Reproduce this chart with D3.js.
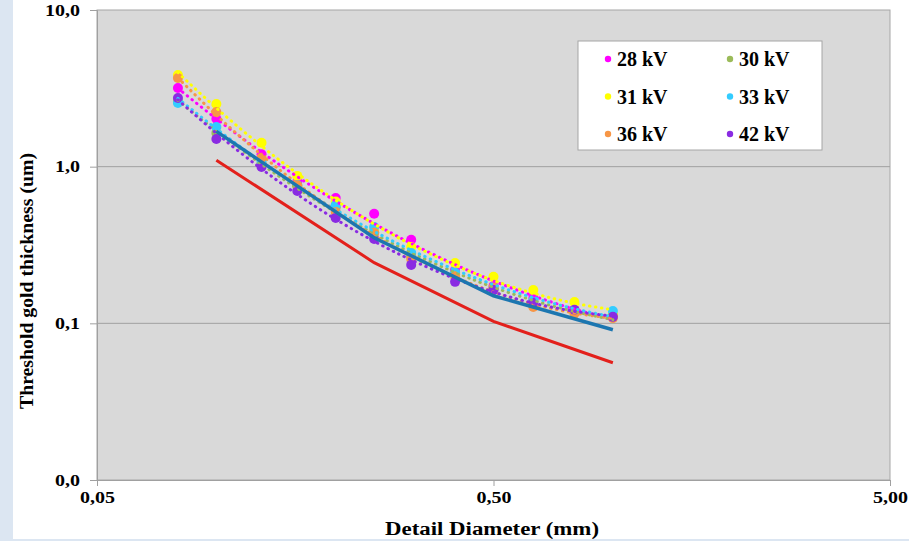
<!DOCTYPE html>
<html>
<head>
<meta charset="utf-8">
<script src="https://cdn.jsdelivr.net/npm/d3@7"></script>
<style>
  body { margin: 0; background: #fff; }
  svg { display: block; }
  text { font-family: "Liberation Serif", "Times New Roman", Tinos, serif; font-weight: bold; fill: #000; }
</style>
</head>
<body>
<script>
// data ---------------------------------------------------------
var diameters = [0.08, 0.10, 0.13, 0.16, 0.20, 0.25, 0.31, 0.40, 0.50, 0.63, 0.80, 1.00];

var kv28 = [3.18, 2.02, 1.20, 0.80, 0.63, 0.50, 0.341, 0.219, 0.173, 0.145, 0.122, 0.112];
var kv30 = [2.60, 1.64, 1.05, 0.75, 0.55, 0.38, 0.270, 0.205, 0.165, 0.138, 0.118, 0.110];
var kv31 = [3.85, 2.51, 1.42, 0.873, 0.60, 0.40, 0.307, 0.243, 0.198, 0.163, 0.137, 0.115];
var kv33 = [2.55, 1.79, 1.09, 0.764, 0.57, 0.412, 0.281, 0.210, 0.168, 0.140, 0.120, 0.120];
var kv36 = [3.68, 2.23, 1.14, 0.76, 0.514, 0.378, 0.258, 0.200, 0.170, 0.127, 0.115, 0.108];
var kv42 = [2.74, 1.50, 0.995, 0.70, 0.471, 0.346, 0.236, 0.184, 0.163, 0.135, 0.122, 0.110];

var seriesNames = ['28 kV', '30 kV', '31 kV', '33 kV', '36 kV', '42 kV'];
var seriesValues = [kv28, kv30, kv31, kv33, kv36, kv42];
var seriesColors = ['#ff00ff', '#9bbb59', '#ffff00', '#33ccff', '#f79646', '#8a2be2'];

// limit curves (solid lines)
var limitDiameters = [0.10, 0.25, 0.50, 1.00];
var acceptable = [1.68, 0.352, 0.150, 0.091];
var achievable = [1.10, 0.244, 0.103, 0.056];

var xTicks = [0.05, 0.5, 5];
var xTickLabels = ['0,05', '0,50', '5,00'];
var yTicks = [0.01, 0.1, 1, 10];
var yTickLabels = ['0,0', '0,1', '1,0', '10,0'];


// chart settings -----------------------------------------------
var chartConfig = {
  width: 909,
  height: 541,
  left: 97,
  right: 890,
  top: 10,
  bottom: 480,
  font: '"Liberation Serif", "Times New Roman", Tinos, serif'
};

var svg = d3.select('body').append('svg')
  .attr('width', chartConfig.width)
  .attr('height', chartConfig.height);

// light blue frame of the slide on the left and bottom
svg.append('rect').attr('x', 0).attr('y', 0).attr('width', 13).attr('height', chartConfig.height).attr('fill', '#dce6f2');
svg.append('rect').attr('x', 0).attr('y', chartConfig.height - 2).attr('width', chartConfig.width).attr('height', 2).attr('fill', '#dce6f2');

var x = d3.scaleLog().domain([0.05, 5]).range([chartConfig.left, chartConfig.right]);
var y = d3.scaleLog().domain([0.01, 10]).range([chartConfig.bottom, chartConfig.top]);

// plot area
svg.append('rect')
  .attr('x', chartConfig.left)
  .attr('y', chartConfig.top)
  .attr('width', chartConfig.right - chartConfig.left)
  .attr('height', chartConfig.bottom - chartConfig.top)
  .attr('fill', '#d9d9d9')
  .attr('stroke', '#a6a6a6')
  .attr('stroke-width', 1);

// gridlines
svg.append('g').selectAll('line')
  .data(yTicks.slice(1, 3))
  .enter()
  .append('line')
  .attr('x1', chartConfig.left)
  .attr('x2', chartConfig.right)
  .attr('y1', function(d) { return y(d); })
  .attr('y2', function(d) { return y(d); })
  .attr('stroke', '#a0a0a0')
  .attr('stroke-width', 1);

// axes
var yAxis = d3.axisLeft(y)
  .tickValues(yTicks)
  .tickSize(7)
  .tickPadding(9)
  .tickFormat(function(d, i) { return yTickLabels[i]; });

var xAxis = d3.axisBottom(x)
  .tickValues(xTicks)
  .tickSize(6)
  .tickPadding(6)
  .tickFormat(function(d, i) { return xTickLabels[i]; });

var gy = svg.append('g')
  .attr('transform', 'translate(' + chartConfig.left + ',0)')
  .call(yAxis);

var gx = svg.append('g')
  .attr('transform', 'translate(0,' + chartConfig.bottom + ')')
  .call(xAxis);

[gx, gy].forEach(function(g) {
  g.attr('font-family', chartConfig.font);
  g.select('.domain').attr('stroke', '#a0a0a0');
  g.selectAll('.tick line').attr('stroke', '#a0a0a0');
  g.selectAll('.tick text')
    .attr('font-family', chartConfig.font)
    .attr('font-size', 16)
    .attr('font-weight', 'bold')
    .attr('fill', '#000');
});

// the tick labels are drawn a bit wider than normal
gy.selectAll('.tick text')
  .attr('dy', '0.32em')
  .attr('transform', 'translate(3,0) scale(1.25,1)');
gx.selectAll('.tick text')
  .attr('transform', 'scale(1.25,1)');

// axis titles
svg.append('text')
  .attr('x', 492)
  .attr('y', 535)
  .attr('text-anchor', 'middle')
  .attr('font-size', 18)
  .attr('textLength', 214)
  .attr('lengthAdjust', 'spacingAndGlyphs')
  .text('Detail Diameter (mm)');

svg.append('text')
  .attr('transform', 'translate(33,281) rotate(-90)')
  .attr('text-anchor', 'middle')
  .attr('font-size', 18)
  .attr('textLength', 256)
  .attr('lengthAdjust', 'spacingAndGlyphs')
  .text('Threshold gold thickness (um)');


// helper functions ----------------------------------------------
var toPoints = function(xs, ys) {
  var pts = [];
  for (var i = 0; i < xs.length; i++) {
    if (ys[i] != null) pts.push({ x: xs[i], y: ys[i] });
  }
  return pts;
};

// second order trendline in log-log space (least squares)
var trendline = function(xs, ys) {
  var s = [0, 0, 0, 0, 0], t = [0, 0, 0];
  for (var i = 0; i < xs.length; i++) {
    var u = Math.log10(xs[i]), v = Math.log10(ys[i]);
    var p = 1;
    for (var k = 0; k < 5; k++) { s[k] += p; p *= u; }
    t[0] += v; t[1] += v * u; t[2] += v * u * u;
  }
  var m = [[s[0], s[1], s[2], t[0]], [s[1], s[2], s[3], t[1]], [s[2], s[3], s[4], t[2]]];
  for (var c = 0; c < 3; c++) {
    for (var r = c + 1; r < 3; r++) {
      var f = m[r][c] / m[c][c];
      for (var j = c; j < 4; j++) m[r][j] -= f * m[c][j];
    }
  }
  var coef = [0, 0, 0];
  for (var r2 = 2; r2 >= 0; r2--) {
    var sum = m[r2][3];
    for (var j2 = r2 + 1; j2 < 3; j2++) sum -= m[r2][j2] * coef[j2];
    coef[r2] = sum / m[r2][r2];
  }
  return xs.map(function(d) {
    var u = Math.log10(d);
    return { x: d, y: Math.pow(10, coef[0] + coef[1] * u + coef[2] * u * u) };
  });
};

var line = d3.line()
  .x(function(d) { return x(d.x); })
  .y(function(d) { return y(d.y); });

var smoothLine = d3.line()
  .curve(d3.curveCatmullRom)
  .x(function(d) { return x(d.x); })
  .y(function(d) { return y(d.y); });


// markers ------------------------------------------------------
seriesValues.forEach(function(vals, i) {
  svg.append('g').selectAll('circle')
    .data(toPoints(diameters, vals))
    .enter()
    .append('circle')
    .attr('cx', function(d) { return x(d.x); })
    .attr('cy', function(d) { return y(d.y); })
    .attr('r', 5)
    .attr('fill', seriesColors[i]);
});

// dotted trendlines
seriesValues.forEach(function(vals, i) {
  svg.append('path')
    .datum(trendline(diameters, vals))
    .attr('d', smoothLine)
    .attr('fill', 'none')
    .attr('stroke', seriesColors[i])
    .attr('stroke-width', 3)
    .attr('stroke-linecap', 'round')
    .attr('stroke-dasharray', '0.5,5.5');
});

// limit curves
svg.append('path')
  .datum(toPoints(limitDiameters, acceptable))
  .attr('d', line)
  .attr('fill', 'none')
  .attr('stroke', '#1c76b0')
  .attr('stroke-width', 3.5);

svg.append('path')
  .datum(toPoints(limitDiameters, achievable))
  .attr('d', line)
  .attr('fill', 'none')
  .attr('stroke', '#e3201b')
  .attr('stroke-width', 3);


// legend -------------------------------------------------------
var legend = svg.append('g').attr('transform', 'translate(578,41)');

legend.append('rect')
  .attr('width', 244)
  .attr('height', 109)
  .attr('fill', '#fff')
  .attr('stroke', '#a6a6a6');

var items = legend.selectAll('g.item')
  .data(seriesNames)
  .enter()
  .append('g')
  .attr('class', 'item')
  .attr('transform', function(d, i) {
    return 'translate(' + (i % 2 === 0 ? 30 : 152) + ',' + (18 + Math.floor(i / 2) * 37.5) + ')';
  });

items.append('circle')
  .attr('r', 3.2)
  .attr('fill', function(d, i) { return seriesColors[i]; });

items.append('text')
  .attr('x', 9)
  .attr('dy', '0.35em')
  .attr('font-size', 20)
  .attr('font-family', chartConfig.font)
  .text(function(d) { return d; });
</script>
</body>
</html>
